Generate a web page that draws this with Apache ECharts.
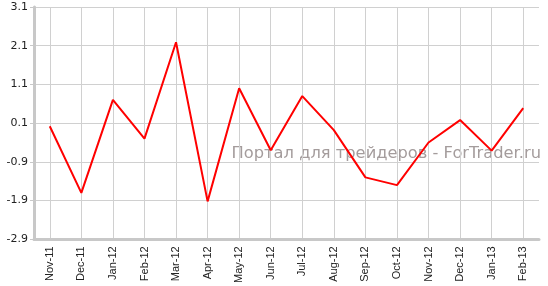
<!DOCTYPE html>
<html><head><meta charset="utf-8">
<script src="https://cdn.jsdelivr.net/npm/echarts@6/dist/echarts.min.js"></script>
<style>html,body{margin:0;padding:0;background:#fff}#c{width:548px;height:286px}</style>
</head><body><div id="c"></div>
<script>
const categories = ["Nov-11","Dec-11","Jan-12","Feb-12","Mar-12","Apr-12","May-12","Jun-12","Jul-12","Aug-12","Sep-12","Oct-12","Nov-12","Dec-12","Jan-13","Feb-13"];
const values = [0.02,-1.7,0.7,-0.3,2.19,-1.92,1.0,-0.6,0.8,-0.08,-1.3,-1.5,-0.4,0.18,-0.61,0.49];
const yMin = -2.9, yMax = 3.1, yStep = 1;
const watermark = "Портал для трейдеров - ForTrader.ru";

const chart = echarts.init(document.getElementById('c'), null, {renderer:'canvas'});
chart.setOption({
  animation:false,
  backgroundColor:'#ffffff',
  grid:{left:34,right:9,top:7,bottom:45},
  xAxis:{
    type:'category', data:categories, boundaryGap:true,
    axisLine:{onZero:false,lineStyle:{color:'#c8c8c8',width:3}},
    axisTick:{alignWithLabel:true,length:4,lineStyle:{color:'#c8c8c8'}},
    axisLabel:{rotate:90,margin:7,color:'#222',fontFamily:'Liberation Sans',fontSize:11,interval:0},
    splitLine:{show:true,alignWithLabel:true,lineStyle:{color:'#d0d0d0',width:1}}
  },
  yAxis:{
    type:'value', min:yMin, max:yMax, interval:yStep,
    axisLine:{show:true,lineStyle:{color:'#c8c8c8',width:3}},
    axisTick:{show:true,length:4,lineStyle:{color:'#c8c8c8'}},
    axisLabel:{color:'#222',fontFamily:'DejaVu Sans',fontSize:11,margin:6,formatter:v=>v.toFixed(1)},
    splitLine:{show:true,lineStyle:{color:'#d0d0d0',width:1}}
  },
  graphic:[{type:'text',right:7,top:146,z:0,style:{text:watermark,fill:'#a49c9c',font:'16.3px "DejaVu Sans"'}}],
  series:[{type:'line',data:values,showSymbol:false,symbol:'none',z:5,lineStyle:{color:'#ff0000',width:2}}]
});
</script></body></html>
